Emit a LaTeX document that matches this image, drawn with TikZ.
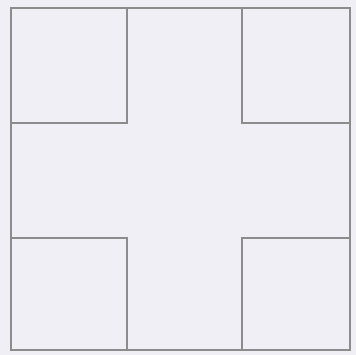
\documentclass[tikz,border=0pt]{standalone}
\begin{document}
\begin{tikzpicture}[x=1pt,y=-1pt,
  edge/.style={draw=black!45, line width=1.1pt, line join=miter}]
\definecolor{paper}{RGB}{241,239,246}
\fill[paper] (0,0) rectangle (356,355);
\useasboundingbox (0,0) rectangle (356,355);
% outer square
\draw[edge] (11,8) rectangle (350,350);
% corner squares
\draw[edge] (11,8) rectangle (127,123);
\draw[edge] (242,8) rectangle (350,123);
\draw[edge] (11,238) rectangle (127,350);
\draw[edge] (242,238) rectangle (350,350);
\end{tikzpicture}
\end{document}
